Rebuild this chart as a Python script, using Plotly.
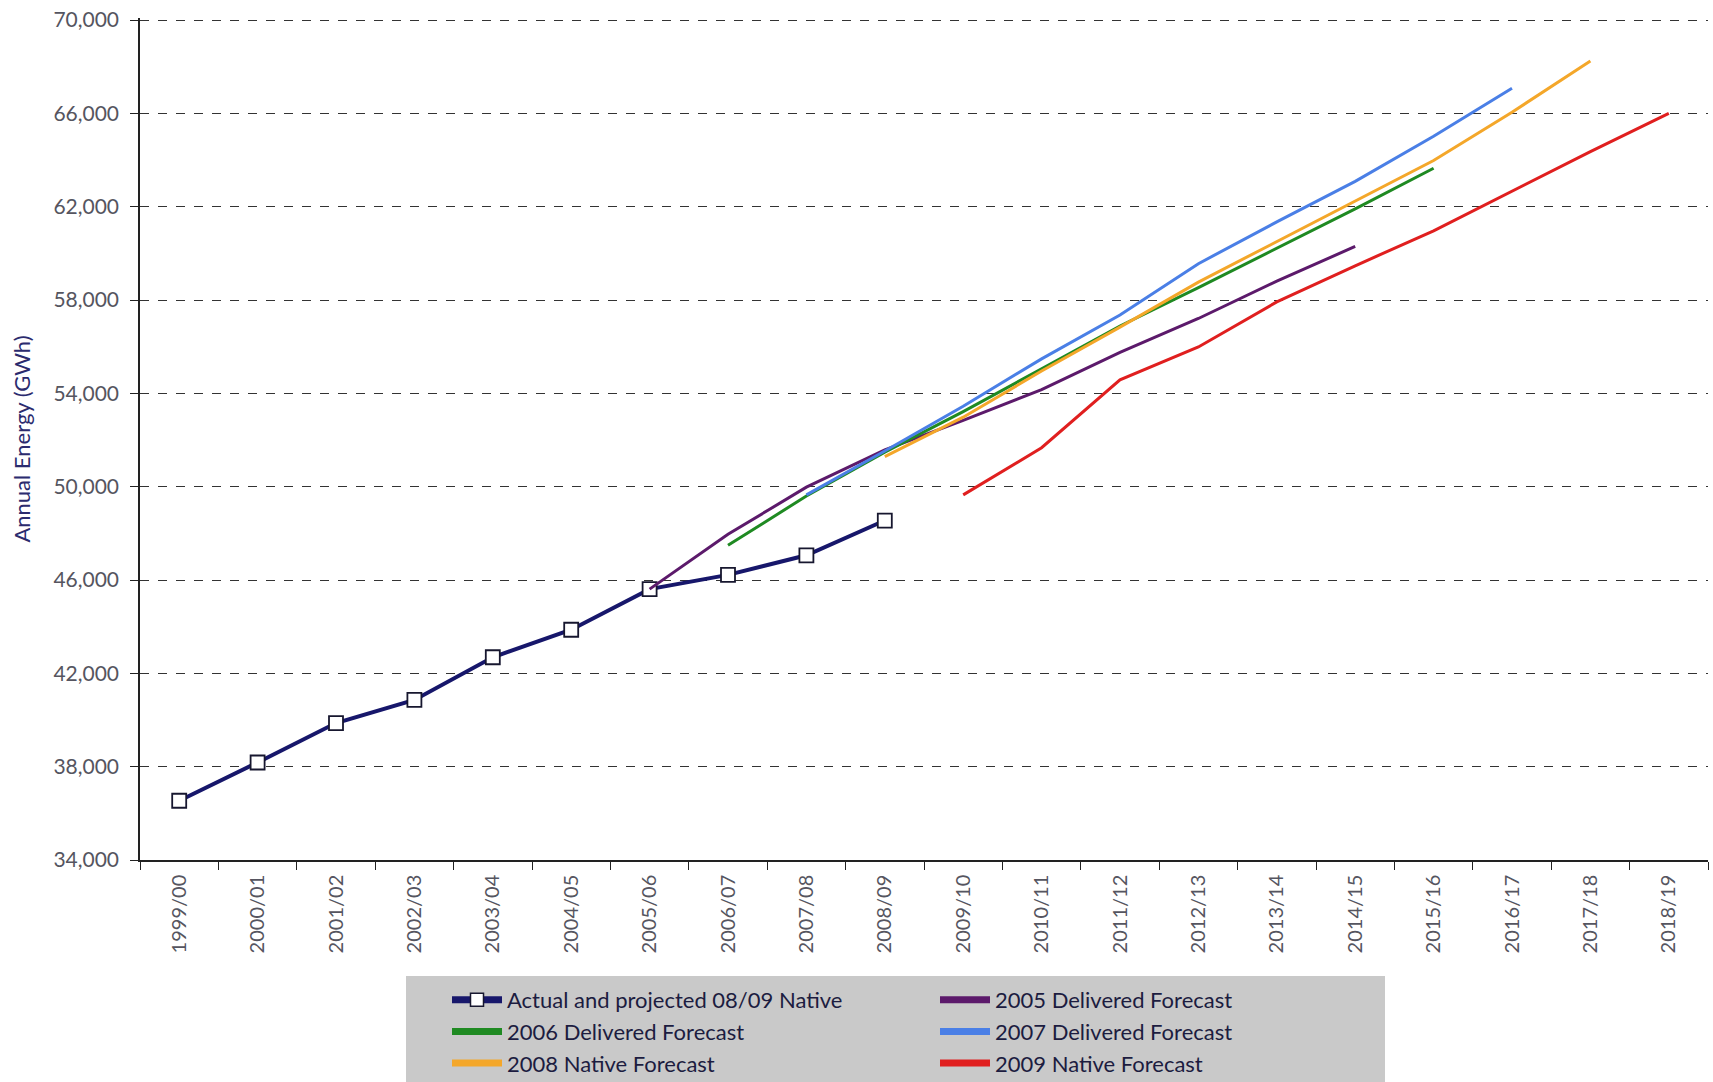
import plotly.graph_objects as go

categories = ["1999/00", "2000/01", "2001/02", "2002/03", "2003/04", "2004/05", "2005/06",
              "2006/07", "2007/08", "2008/09", "2009/10", "2010/11", "2011/12", "2012/13",
              "2013/14", "2014/15", "2015/16", "2016/17", "2017/18", "2018/19"]

actual = [36540, 38180, 39870, 40860, 42690, 43870, 45610, 46220, 47060, 48550]
actual_x = categories[0:10]

f2005 = [45610, 47960, 49980, 51580, 52840, 54160, 55760, 57210, 58810, 60300]
f2005_x = categories[6:16]

f2006 = [47490, 49600, 51480, 53220, 55050, 56890, 58530, 60220, 61910, 63650]
f2006_x = categories[7:17]

f2007 = [49650, 51530, 53450, 55480, 57360, 59560, 61350, 63090, 65020, 67080]
f2007_x = categories[8:18]

f2008 = [51290, 52980, 54960, 56840, 58770, 60500, 62240, 63980, 66050, 68250]
f2008_x = categories[9:19]

f2009 = [49650, 51670, 54580, 55990, 57920, 59470, 60970, 62670, 64360, 66000]
f2009_x = categories[10:20]

y_ticks = [34000, 38000, 42000, 46000, 50000, 54000, 58000, 62000, 66000, 70000]
y_ticklabels = [f"{v:,}" for v in y_ticks]

series = [
    ("Actual and projected 08/09 Native", actual_x, actual, "#17176b", "legend"),
    ("2005 Delivered Forecast", f2005_x, f2005, "#5c1a6b", "legend2"),
    ("2006 Delivered Forecast", f2006_x, f2006, "#1f8a22", "legend"),
    ("2007 Delivered Forecast", f2007_x, f2007, "#4a7fe6", "legend2"),
    ("2008 Native Forecast", f2008_x, f2008, "#f4a72a", "legend"),
    ("2009 Native Forecast", f2009_x, f2009, "#e01f1f", "legend2"),
]

fig = go.Figure()
for i, (name, xs, ys, col, lg) in enumerate(series):
    if i == 0:
        fig.add_trace(go.Scatter(x=xs, y=ys, name=name, mode="lines+markers", showlegend=False,
                                 line=dict(color=col, width=4),
                                 marker=dict(symbol="square", size=14, color="white",
                                             line=dict(color="#17172f", width=1.8))))
    else:
        fig.add_trace(go.Scatter(x=xs, y=ys, name=name, mode="lines", showlegend=False,
                                 line=dict(color=col, width=3)))

# legend-only entries (thicker symbols, as in the original legend)
for i, (name, xs, ys, col, lg) in enumerate(series):
    if i == 0:
        fig.add_trace(go.Scatter(x=[None], y=[None], name=name, mode="lines+markers",
                                 legend=lg, legendgroup=f"g{i}",
                                 line=dict(color=col, width=7),
                                 marker=dict(symbol="square", size=13, color="white",
                                             line=dict(color="#17172f", width=1.5))))
    else:
        fig.add_trace(go.Scatter(x=[None], y=[None], name=name, mode="lines",
                                 legend=lg, legendgroup=f"g{i}",
                                 line=dict(color=col, width=7)))

# plot area: x 140..1708, y 18..860 (range top padded slightly so the 70,000 gridline shows)
L, R, T, B = 140, 1708, 18, 860
W, H = R - L, B - T

fig.add_shape(type="rect", xref="paper", yref="paper",
              x0=(406 - L) / W, x1=(1385 - L) / W,
              y0=(B - 976) / H, y1=(B - 1090) / H,
              fillcolor="#c9c9c9", line=dict(width=0), layer="below")

leg_common = dict(orientation="v", xanchor="left", yanchor="top",
                  bgcolor="rgba(0,0,0,0)", font=dict(size=22, color="#1c1c40"),
                  itemwidth=50, traceorder="normal", tracegroupgap=3)

fig.update_layout(
    width=1713, height=1082,
    margin=dict(l=L, r=1713 - R, t=T, b=1082 - B, autoexpand=False),
    paper_bgcolor="white", plot_bgcolor="white",
    font=dict(family="Lato, 'Open Sans', sans-serif", color="#555560"),
    showlegend=True,
    legend=dict(x=(447 - L) / W, y=(B - 979) / H, **leg_common),
    legend2=dict(x=(935 - L) / W, y=(B - 979) / H, **leg_common),
)
fig.update_xaxes(type="category", categoryorder="array", categoryarray=categories,
                 range=[-0.5, 19.5], tickson="boundaries", ticks="outside", ticklen=8,
                 tickcolor="#222", showline=True, linecolor="#222", linewidth=1.5,
                 tickangle=-90, tickfont=dict(size=20, color="#555560"), showgrid=False,
                 ticklabelstandoff=5, automargin=False)
fig.update_yaxes(range=[34000, 70090], tickvals=y_ticks, ticktext=y_ticklabels,
                 ticks="outside", ticklen=8, tickcolor="#222", showline=True,
                 linecolor="#222", linewidth=1.5, showgrid=True, gridcolor="#333",
                 griddash="dash", gridwidth=1, zeroline=False, automargin=False,
                 ticklabelstandoff=7,
                 tickfont=dict(size=21, color="#555560"),
                 title=dict(text="Annual Energy (GWh)", font=dict(size=22, color="#2b2b6e"),
                            standoff=17))

fig.write_html("out.html", config={"displayModeBar": False},
               post_script="document.body.style.margin='0';document.body.style.overflow='hidden';")
